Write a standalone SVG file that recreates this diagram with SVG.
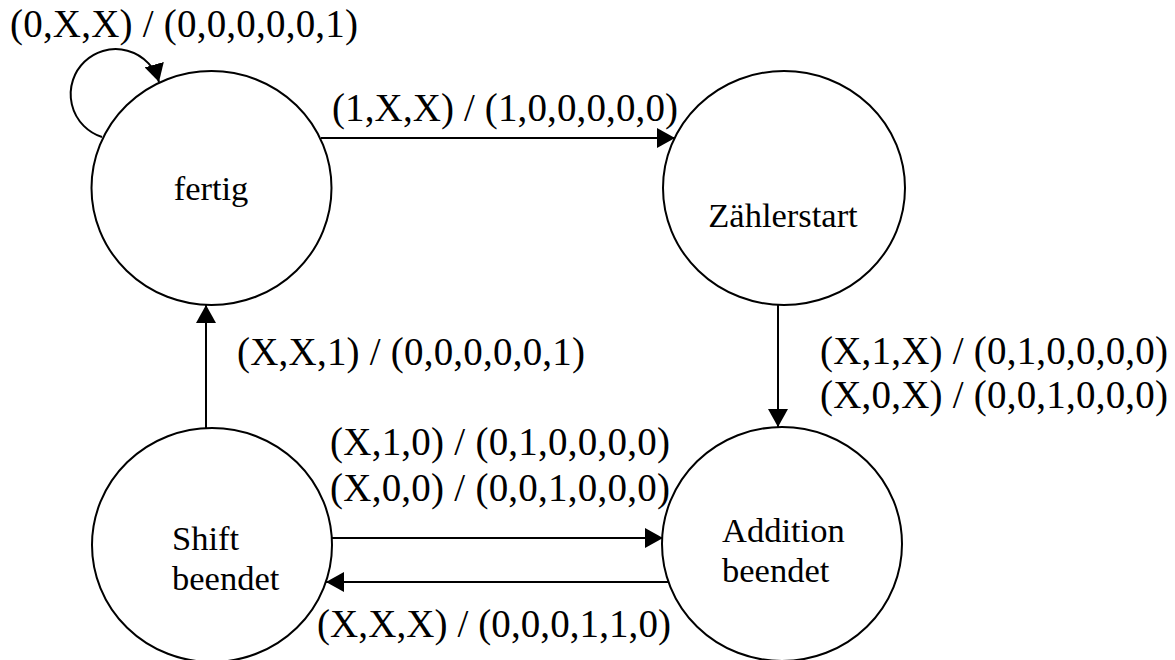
<svg xmlns="http://www.w3.org/2000/svg" width="1175" height="660" viewBox="0 0 1175 660">
<style>
.state{fill:#fff;stroke:#000;stroke-width:2}
.edge{fill:none;stroke:#000;stroke-width:2}
.lbl{font-family:"Liberation Serif","Times New Roman",serif;font-size:39px;fill:#000}
.name{font-family:"Liberation Serif","Times New Roman",serif;font-size:34.5px;fill:#000}
</style>
<defs>
<marker id="arr" viewBox="0 0 18 20" refX="18" refY="10" markerWidth="18" markerHeight="20" markerUnits="userSpaceOnUse" orient="auto">
<path d="M0,0 L18,10 L0,20 z" fill="#000"/>
</marker>
</defs>
<rect width="1175" height="660" fill="#fff"/>
<g id="connectors">
<path class="edge" d="M102,137 A45,45 0 1 1 159,82" marker-end="url(#arr)"/>
<line class="edge" x1="321" y1="138" x2="675" y2="138" marker-end="url(#arr)"/>
<line class="edge" x1="778" y1="305" x2="778" y2="427" marker-end="url(#arr)"/>
<line class="edge" x1="206" y1="428" x2="206" y2="305" marker-end="url(#arr)"/>
<line class="edge" x1="332" y1="538" x2="663" y2="538" marker-end="url(#arr)"/>
<line class="edge" x1="669" y1="582" x2="326" y2="582" marker-end="url(#arr)"/>
<text class="lbl" x="10" y="37" textLength="348" lengthAdjust="spacing">(0,X,X) / (0,0,0,0,0,1)</text>
<text class="lbl" x="332" y="121" textLength="346" lengthAdjust="spacing">(1,X,X) / (1,0,0,0,0,0)</text>
<text class="lbl" x="237" y="365" textLength="348" lengthAdjust="spacing">(X,X,1) / (0,0,0,0,0,1)</text>
<text class="lbl" x="820" y="364" textLength="348" lengthAdjust="spacing">(X,1,X) / (0,1,0,0,0,0)</text>
<text class="lbl" x="820" y="408" textLength="348" lengthAdjust="spacing">(X,0,X) / (0,0,1,0,0,0)</text>
<text class="lbl" x="330" y="455" textLength="340" lengthAdjust="spacing">(X,1,0) / (0,1,0,0,0,0)</text>
<text class="lbl" x="330" y="501" textLength="340" lengthAdjust="spacing">(X,0,0) / (0,0,1,0,0,0)</text>
<text class="lbl" x="317" y="637" textLength="354" lengthAdjust="spacing">(X,X,X) / (0,0,0,1,1,0)</text>
</g>
<g id="fertig">
<ellipse class="state" cx="211.5" cy="188" rx="120" ry="117"/>
<text class="name" x="211" y="200" text-anchor="middle">fertig</text>
</g>
<g id="zaehlerstart">
<ellipse class="state" cx="784" cy="188" rx="121" ry="117"/>
<text class="name" x="783" y="227" text-anchor="middle">Zählerstart</text>
</g>
<g id="addition">
<ellipse class="state" cx="782" cy="544" rx="120" ry="117"/>
<text class="name" x="722" y="542">Addition</text>
<text class="name" x="722" y="582">beendet</text>
</g>
<g id="shift">
<ellipse class="state" cx="212" cy="545" rx="120" ry="117"/>
<text class="name" x="172" y="550">Shift</text>
<text class="name" x="172" y="590">beendet</text>
</g>
</svg>
